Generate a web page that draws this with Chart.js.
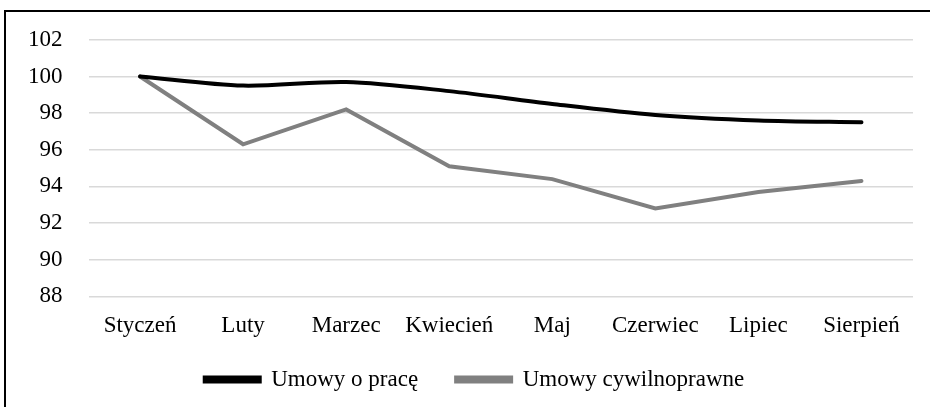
<!DOCTYPE html>
<html>
<head>
<meta charset="utf-8">
<script src="https://cdn.jsdelivr.net/npm/chart.js@4"></script>
<style>
  html, body { margin: 0; padding: 0; background: #fff; }
  #wrap { position: relative; width: 930px; height: 407px; overflow: hidden; }
  #frame { position: absolute; left: 4px; top: 10px; width: 1000px; height: 500px; border-left: 2px solid #000; border-top: 2px solid #000; }
  canvas { position: absolute; left: 0; top: 0; }
</style>
</head>
<body>
<div id="wrap">
  <div id="frame"></div>
  <canvas id="chart" width="930" height="407"></canvas>
</div>
<script>
const months = ['Styczeń', 'Luty', 'Marzec', 'Kwiecień', 'Maj', 'Czerwiec', 'Lipiec', 'Sierpień'];
const umowyOPrace = [100, 99.5, 99.7, 99.2, 98.5, 97.9, 97.6, 97.5];
const umowyCywilne = [100, 96.3, 98.2, 95.1, 94.4, 92.8, 93.7, 94.3];
const yTicks = [88, 90, 92, 94, 96, 98, 100, 102];

const font = { family: '"Liberation Serif", "Times New Roman", serif', size: 23 };

// legend sits a bit closer to the axis labels (and a bit right) than chart.js puts it
const legendShift = {
  id: 'legendShift',
  afterLayout(chart) {
    chart.legend.top -= 18;
    chart.legend.bottom -= 18;
    chart.legend.left += 17;
    chart.legend.right += 17;
  }
};

const ctx = document.getElementById('chart').getContext('2d');
new Chart(ctx, {
  type: 'line',
  data: {
    labels: months,
    datasets: [{
      label: 'Umowy o pracę',
      data: umowyOPrace,
      borderColor: '#000000',
      backgroundColor: '#000000',
      borderWidth: 4,
      tension: 0.3,
      pointRadius: 0,
      borderCapStyle: 'round'
    }, {
      label: 'Umowy cywilnoprawne',
      data: umowyCywilne,
      borderColor: '#808080',
      backgroundColor: '#808080',
      borderWidth: 4,
      tension: 0,
      pointRadius: 0,
      borderCapStyle: 'round'
    }]
  },
  options: {
    responsive: false,
    animation: false,
    layout: { padding: { left: 2, right: 17, top: 32, bottom: -12 } },
    plugins: {
      legend: {
        position: 'bottom',
        labels: {
          color: '#000',
          font: font,
          boxWidth: 55,
          boxHeight: 4,
          padding: 38
        }
      },
      tooltip: { enabled: false }
    },
    scales: {
      x: {
        offset: true,
        grid: { display: false },
        border: { display: false },
        ticks: { color: '#000', font: font, padding: 8, maxRotation: 0, autoSkip: false }
      },
      y: {
        min: 88,
        max: 102,
        afterBuildTicks: axis => { axis.ticks = yTicks.map(v => ({ value: v })); },
        grid: { color: '#d9d9d9', lineWidth: 1.5, drawTicks: false },
        border: { display: false },
        ticks: { color: '#000', font: font, padding: 26 }
      }
    }
  },
  plugins: [legendShift]
});
</script>
</body>
</html>
